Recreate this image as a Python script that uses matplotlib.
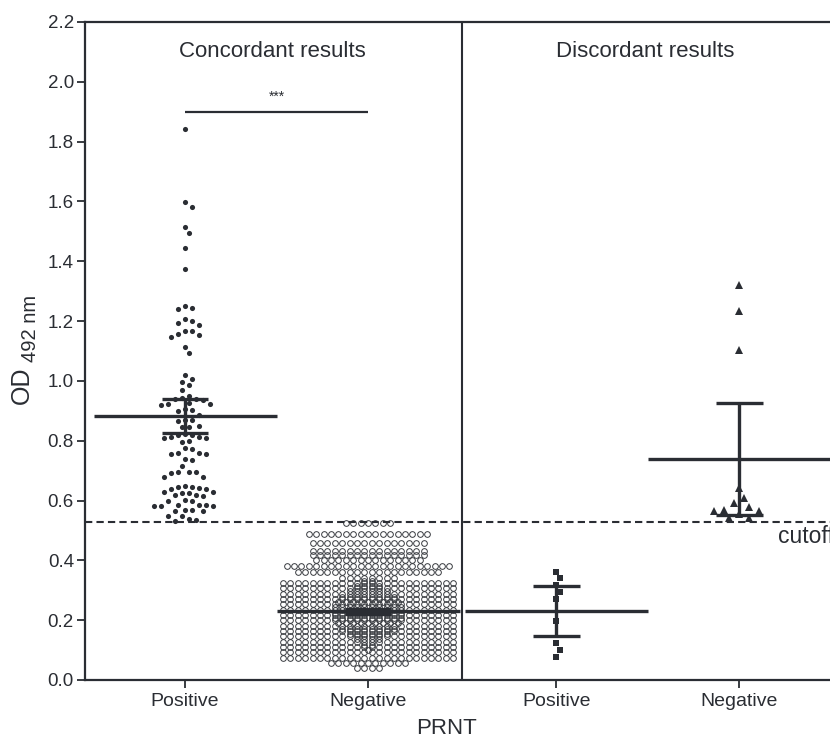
import numpy as np
import matplotlib.pyplot as plt

plt.rcParams['font.family'] = ['Liberation Sans', 'DejaVu Sans']

# categories on the x axis
categories = ['Positive', 'Negative', 'Positive', 'Negative']
cat_pos = [1.0, 2.0, 3.03, 4.03]
section_titles = ['Concordant results', 'Discordant results']

# concordant, PRNT positive (filled dots)
conc_pos = [1.843, 1.598, 1.583, 1.516, 1.495, 1.443, 1.374, 1.249, 1.245, 1.240,
            1.206, 1.200, 1.193, 1.186, 1.167, 1.167, 1.156, 1.153, 1.148, 1.115,
            1.093, 1.021, 1.007, 0.998, 0.987, 0.970, 0.951, 0.942, 0.940, 0.938,
            0.936, 0.925, 0.924, 0.922, 0.920, 0.905, 0.903, 0.901, 0.885, 0.870,
            0.868, 0.866, 0.849, 0.847, 0.845, 0.822, 0.820, 0.818, 0.814, 0.812,
            0.810, 0.808, 0.800, 0.797, 0.775, 0.772, 0.760, 0.758, 0.756, 0.754,
            0.738, 0.735, 0.716, 0.697, 0.696, 0.694, 0.692, 0.680, 0.678, 0.648,
            0.646, 0.644, 0.642, 0.640, 0.638, 0.630, 0.628, 0.626, 0.624, 0.619,
            0.617, 0.615, 0.602, 0.600, 0.598, 0.586, 0.585, 0.584, 0.583, 0.582,
            0.581, 0.569, 0.567, 0.566, 0.564, 0.550, 0.548, 0.537, 0.535, 0.530]

# concordant, PRNT negative (open circles): OD level and number of samples at it
conc_neg_od = [0.524, 0.488, 0.459, 0.432, 0.418, 0.401, 0.381, 0.362, 0.340,
               0.324, 0.306, 0.288, 0.271, 0.253, 0.235, 0.217, 0.199, 0.182,
               0.164, 0.146, 0.128, 0.110, 0.093, 0.075, 0.057, 0.040]
conc_neg_n = [7, 17, 16, 16, 16, 15, 23, 20, 8,
              26, 28, 30, 32, 33, 34, 34, 34, 33,
              32, 30, 28, 26, 25, 24, 11, 4]

# discordant groups
disc_pos = [0.362, 0.340, 0.318, 0.295, 0.271, 0.197, 0.123, 0.100, 0.076]
disc_neg = [1.321, 1.235, 1.104, 0.641, 0.610, 0.591, 0.578, 0.569, 0.566, 0.566,
            0.555, 0.541, 0.540]

# mean and error bars per group
means = [0.883, 0.230, 0.232, 0.739]
err_low = [0.825, 0.222, 0.147, 0.552]
err_high = [0.939, 0.238, 0.315, 0.925]

cutoff = 0.527

ink = '#2a2d33'
W, H = 830, 740
ax_l, ax_r, ax_b, ax_t = 85, 860, 60, 718
ylim = (0, 2.2)
x_left = 1 - 100 / 183
x_right = 1 + (ax_r - 185) / 183
ppu_x = (ax_r - ax_l) / (x_right - x_left)
ppu_y = (ax_t - ax_b) / (ylim[1] - ylim[0])


def px_to_x(px):
    return x_left + (px - ax_l) / ppu_x


def swarm(vals, d_px):
    # simple beeswarm: push each point sideways until it doesn't touch the others
    placed = []
    xs = []
    cands = [0.0]
    for k in range(1, 80):
        cands += [k * d_px / 2, -k * d_px / 2]
    for v in vals:
        y = v * ppu_y
        for c in cands:
            if all((c - px) ** 2 + (y - py) ** 2 >= d_px ** 2 * 0.98 for px, py in placed):
                break
        placed.append((c, y))
        xs.append(c / ppu_x)
    return np.array(xs)


def rows(levels, counts, spacing_px, max_row):
    # rows of circles, overflow goes to a second centred layer
    xs, ys = [], []
    for lv, n in zip(levels, counts):
        first = min(n, max_row)
        xs += list((np.arange(first) - (first - 1) / 2) * spacing_px / ppu_x)
        ys += [lv] * first
        rest = n - first
        if rest > 0:
            xs += list((np.arange(rest) - (rest - 1) / 2) * spacing_px / ppu_x)
            ys += [lv + 0.008] * rest
    return np.array(xs), np.array(ys)


fig = plt.figure(figsize=(W / 100, H / 100), dpi=100)
ax = fig.add_axes([ax_l / W, ax_b / H, (ax_r - ax_l) / W, (ax_t - ax_b) / H])
ax.set_xlim(x_left, x_right)
ax.set_ylim(*ylim)

# points
v1 = np.sort(conc_pos)[::-1]
ax.plot(cat_pos[0] + swarm(v1, 7.0), v1, 'o', color=ink, ms=3.7, mew=0, zorder=3)

nx, ny = rows(conc_neg_od, conc_neg_n, 7.4, 24)
ax.plot(cat_pos[1] + nx, ny, 'o', mfc='none', mec='#383b40', ms=4.1, mew=0.7, zorder=3)

v3 = np.sort(disc_pos)[::-1]
ax.plot(cat_pos[2] + swarm(v3, 7.0), v3, 's', color=ink, ms=4.3, mew=0, zorder=3)

v4 = np.sort(disc_neg)[::-1]
ax.plot(cat_pos[3] + swarm(v4, 10.0), v4, '^', color=ink, ms=5.6, mew=0, zorder=3)

# mean and error bars
for xp, m, lo, hi in zip(cat_pos, means, err_low, err_high):
    ax.hlines(m, xp - 0.5, xp + 0.5, color=ink, lw=2.4, zorder=5)
    ax.vlines(xp, lo, hi, color=ink, lw=2.4, zorder=5)
    ax.hlines([lo, hi], xp - 0.127, xp + 0.127, color=ink, lw=2.4, zorder=5)

# cutoff and divider
ax.axhline(cutoff, color=ink, lw=1.5, ls=(0, (3.5, 2.0)), zorder=4)
ax.text(px_to_x(778), 0.458, 'cutoff', fontsize=16.5, color=ink,
        va='baseline', ha='left')
div_x = px_to_x(462)
ax.axvline(div_x, color=ink, lw=1.5, zorder=4)

# section titles
ax.text(px_to_x(272), 2.10, section_titles[0], fontsize=16,
        color=ink, ha='center', va='center')
ax.text(px_to_x(645), 2.10, section_titles[1], fontsize=16,
        color=ink, ha='center', va='center')

# significance bar
ax.hlines(1.90, cat_pos[0], cat_pos[1], color=ink, lw=1.6)
ax.text((cat_pos[0] + cat_pos[1]) / 2, 1.925, '***', fontsize=10, color=ink,
        ha='center', va='bottom')

# axes styling
ax.set_xticks(cat_pos)
ax.set_xticklabels(categories)
yt = np.arange(0, 2.21, 0.2)
ax.set_yticks(yt)
ax.set_yticklabels([f'{t:.1f}' for t in yt])
ax.tick_params(direction='out', length=6, width=1.3, color=ink, labelcolor=ink,
               labelsize=13.5)
ax.tick_params(axis='x', labelsize=14, pad=3)
ax.tick_params(axis='y', pad=2)
for side in ['left', 'bottom', 'top']:
    ax.spines[side].set_color(ink)
    ax.spines[side].set_linewidth(1.6)
ax.spines['right'].set_visible(False)

# axis titles
fig.text(22 / W, 1 - 404 / H, 'OD', fontsize=18, color=ink, rotation=90,
         ha='center', va='bottom')
fig.text(31 / W, 1 - 362 / H, '492 nm', fontsize=14.5, color=ink, rotation=90,
         ha='center', va='bottom')
fig.text(446 / W, 1 - 728 / H, 'PRNT', fontsize=16, color=ink, ha='center', va='center')

fig.savefig('out.png', dpi=100)
